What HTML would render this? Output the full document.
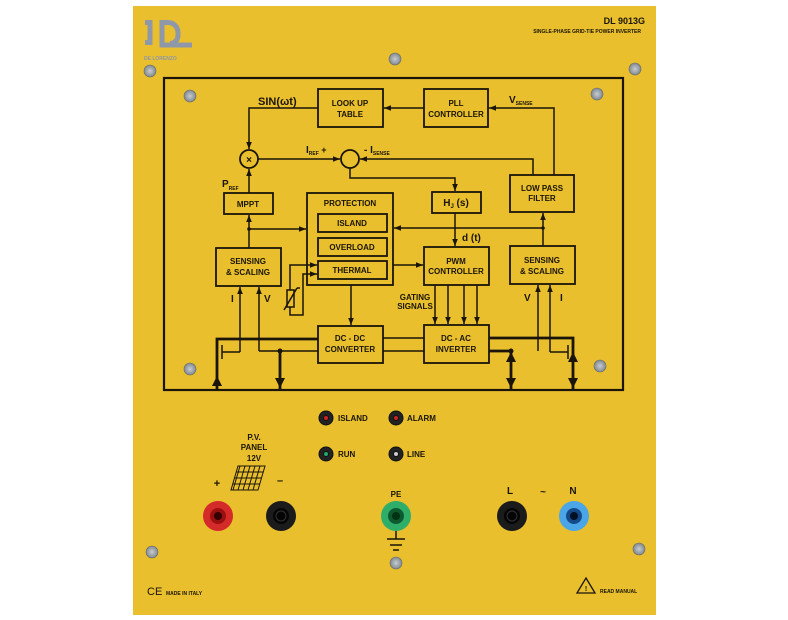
<!DOCTYPE html>
<html><head><meta charset="utf-8"><style>
html,body{margin:0;padding:0;background:#fff;width:788px;height:620px;overflow:hidden}
svg{display:block}
text{font-family:"Liberation Sans",sans-serif;fill:#1a1508;font-weight:bold}
</style></head><body>
<svg width="788" height="620" viewBox="0 0 788 620" xmlns="http://www.w3.org/2000/svg">
<defs>
<marker id="a" viewBox="0 0 10 10" refX="10" refY="5" markerWidth="7" markerHeight="7" orient="auto-start-reverse" markerUnits="userSpaceOnUse"><path d="M0,1 L10,5 L0,9 z" fill="#1a1508"/></marker>
<radialGradient id="sc"><stop offset="0" stop-color="#c8ccd0"/><stop offset="1" stop-color="#7f8890"/></radialGradient>
</defs>
<rect x="133" y="6" width="523" height="609" fill="#e9bf2e"/>
<!-- logo -->
<g fill="none" stroke="#8f98a8" stroke-width="5">
<path d="M150,20 V45"/>
<path d="M145,22.5 H152 M145,42.5 H152"/>
<path d="M162,20 V45 H192"/>
<path d="M162,22.5 H168 a10,10 0 0 1 10,10 v3 a8,8 0 0 1 -8,8"/>
</g>
<text x="144" y="60" font-size="5" style="fill:#8f98a8">DE LORENZO</text>
<text x="645" y="24" font-size="9" text-anchor="end">DL 9013G</text>
<text x="641" y="33" font-size="5" text-anchor="end">SINGLE-PHASE GRID-TIE POWER INVERTER</text>
<!-- screws -->
<g fill="url(#sc)" stroke="#6a6a60" stroke-width="0.6">
<circle cx="150" cy="71" r="6"/><circle cx="395" cy="59" r="6"/><circle cx="635" cy="69" r="6"/>
<circle cx="190" cy="96" r="6"/><circle cx="597" cy="94" r="6"/><circle cx="190" cy="369" r="6"/><circle cx="600" cy="366" r="6"/>
<circle cx="152" cy="552" r="6"/><circle cx="396" cy="563" r="6"/><circle cx="639" cy="549" r="6"/>
</g>
<!-- diagram -->
<g fill="none" stroke="#1a1508" stroke-width="1.8">
<rect x="164" y="78" width="459" height="312" stroke-width="2.2"/>
<rect x="318" y="89" width="65" height="38"/>
<rect x="424" y="89" width="64" height="38"/>
<rect x="510" y="175" width="64" height="37"/>
<rect x="432" y="192" width="49" height="21"/>
<rect x="224" y="193" width="49" height="21"/>
<rect x="307" y="193" width="86" height="92"/>
<rect x="318" y="214" width="69" height="18"/>
<rect x="318" y="238" width="69" height="18"/>
<rect x="318" y="261" width="69" height="18"/>
<rect x="216" y="248" width="65" height="38"/>
<rect x="424" y="247" width="65" height="38"/>
<rect x="510" y="246" width="65" height="38"/>
<rect x="318" y="326" width="65" height="37"/>
<rect x="424" y="325" width="65" height="38"/>
<circle cx="249" cy="159" r="9"/>
<circle cx="350" cy="159" r="9"/>
</g>
<text x="249" y="163" font-size="10" text-anchor="middle">×</text>
<g fill="none" stroke="#1a1508" stroke-width="1.5" marker-end="url(#a)">
<path d="M318,108 H249 V149"/>
<path d="M424,108 H384"/>
<path d="M554,175 V108 H489"/>
<path d="M258,159 H340"/>
<path d="M533,175 V159 H360"/>
<path d="M350,168 V178 H455 V191"/>
<path d="M455,213 V246"/>
<path d="M249,193 V169"/>
<path d="M249,248 V215"/>
<path d="M249,229 H306"/>
<path d="M543,228 H394"/>
<path d="M543,246 V213"/>
<path d="M393,265 H423"/>
<path d="M351,285 V325"/>
<path d="M435,285 V324"/><path d="M448,285 V324"/><path d="M464,285 V324"/><path d="M477,285 V324"/>
<path d="M290,290 V265 H317"/>
<path d="M290,307 V315 H303 V274 H317"/>
<path d="M240,352 V287"/>
<path d="M259,351 V287"/>
<path d="M538,351 V285"/>
<path d="M550,352 V285"/>
</g>
<g fill="none" stroke="#1a1508" stroke-width="1.5">
<rect x="287" y="290" width="7" height="17"/>
<path d="M284,310 L297,288 M297,288 h3"/>
<path d="M222,352 H240 M222,345 V359"/>
<path d="M550,352 H568 M568,345 V359"/>
<path d="M383,338 H424 M383,351 H424"/>
<path d="M259,351 H318"/>
</g>
<g fill="none" stroke="#1a1508" stroke-width="2.8">
<path d="M217,390 V339 H318"/>
<path d="M280,351 V390"/>
<path d="M489,338 H573 V390"/>
<path d="M489,351 H511 V390"/>
</g>
<g fill="#1a1508">
<path d="M217,376 l-5,10 h10z"/>
<path d="M280,388 l-5,-10 h10z"/>
<path d="M511,352 l-5,10 h10z M511,388 l-5,-10 h10z"/>
<path d="M573,352 l-5,10 h10z M573,388 l-5,-10 h10z"/>
<circle cx="280" cy="351" r="2.5"/><circle cx="511" cy="351" r="2.5"/>
<circle cx="249" cy="229" r="1.8"/><circle cx="543" cy="228" r="1.8"/>
</g>
<g font-size="8" text-anchor="middle">
<text x="350" y="106">LOOK UP</text><text x="350" y="117">TABLE</text>
<text x="456" y="106">PLL</text><text x="456" y="117">CONTROLLER</text>
<text x="542" y="191">LOW PASS</text><text x="542" y="201">FILTER</text>
<text x="248" y="207">MPPT</text>
<text x="350" y="206">PROTECTION</text>
<text x="352" y="226">ISLAND</text><text x="352" y="250">OVERLOAD</text><text x="352" y="273">THERMAL</text>
<text x="248" y="264">SENSING</text><text x="248" y="275">&amp; SCALING</text>
<text x="456" y="264">PWM</text><text x="456" y="274">CONTROLLER</text>
<text x="542" y="263">SENSING</text><text x="542" y="274">&amp; SCALING</text>
<text x="350" y="341">DC - DC</text><text x="350" y="352">CONVERTER</text>
<text x="456" y="341">DC - AC</text><text x="456" y="352">INVERTER</text>
<text x="415" y="300">GATING</text><text x="415" y="309">SIGNALS</text>
</g>
<text x="456" y="206" font-size="10" text-anchor="middle">H<tspan font-size="6" dy="2">J</tspan><tspan dy="-2"> (s)</tspan></text>
<text x="258" y="105" font-size="11">SIN(ωt)</text>
<text x="509" y="103" font-size="10">V<tspan font-size="5" dy="2">SENSE</tspan></text>
<text x="306" y="153" font-size="10">I<tspan font-size="5" dy="2">REF</tspan><tspan dy="-2" font-size="9"> +</tspan></text>
<text x="364" y="153" font-size="10">- I<tspan font-size="5" dy="2">SENSE</tspan></text>
<text x="222" y="187" font-size="10">P<tspan font-size="5" dy="3">REF</tspan></text>
<text x="462" y="241" font-size="10">d (t)</text>
<text x="231" y="302" font-size="10">I</text><text x="264" y="302" font-size="10">V</text>
<text x="524" y="301" font-size="10">V</text><text x="560" y="301" font-size="10">I</text>
<!-- LEDs -->
<g stroke="#111" stroke-width="1">
<circle cx="326" cy="418" r="7" fill="#222"/><circle cx="326" cy="418" r="2.5" fill="#c22"/>
<circle cx="396" cy="418" r="7" fill="#222"/><circle cx="396" cy="418" r="2.5" fill="#c22"/>
<circle cx="326" cy="454" r="7" fill="#222"/><circle cx="326" cy="454" r="2.5" fill="#2a6" />
<circle cx="396" cy="454" r="7" fill="#222"/><circle cx="396" cy="454" r="2.5" fill="#ccc"/>
</g>
<g font-size="8"><text x="338" y="421">ISLAND</text><text x="407" y="421">ALARM</text><text x="338" y="457">RUN</text><text x="407" y="457">LINE</text></g>
<g font-size="8" text-anchor="middle"><text x="254" y="440">P.V.</text><text x="254" y="450">PANEL</text><text x="254" y="461">12V</text></g>
<g stroke="#1a1508" stroke-width="1" fill="none">
<path d="M238,466 H265 L258,490 H231 Z"/>
<path d="M234,478 H262 M236,472 H263 M233,484 H260 M240,466 L233,490 M245,466 L238,490 M250,466 L243,490 M255,466 L248,490 M260,466 L253,490"/>
</g>
<text x="217" y="487" font-size="11" text-anchor="middle">+</text>
<text x="280" y="484" font-size="11" text-anchor="middle">–</text>
<text x="396" y="497" font-size="8" text-anchor="middle">PE</text>
<text x="510" y="494" font-size="10" text-anchor="middle">L</text>
<text x="543" y="495" font-size="10" text-anchor="middle">~</text>
<text x="573" y="494" font-size="10" text-anchor="middle">N</text>
<!-- terminals -->
<g>
<circle cx="218" cy="516" r="15" fill="#d42a2a"/><circle cx="218" cy="516" r="8" fill="#9a1010"/><circle cx="218" cy="516" r="4" fill="#300"/>
<circle cx="281" cy="516" r="15" fill="#1b1b1b"/><circle cx="281" cy="516" r="8" fill="#050505"/><circle cx="281" cy="516" r="5" fill="none" stroke="#333"/>
<circle cx="396" cy="516" r="15" fill="#2fae6a"/><circle cx="396" cy="516" r="8" fill="#0d5a30"/><circle cx="396" cy="516" r="4" fill="#031"/>
<circle cx="512" cy="516" r="15" fill="#1b1b1b"/><circle cx="512" cy="516" r="8" fill="#050505"/><circle cx="512" cy="516" r="5" fill="none" stroke="#333"/>
<circle cx="574" cy="516" r="15" fill="#4aa6e6"/><circle cx="574" cy="516" r="8" fill="#154a8a"/><circle cx="574" cy="516" r="4" fill="#012"/>
</g>
<g stroke="#1a1508" stroke-width="1.5"><path d="M396,531 V539 M387,539 H405 M390,545 H402 M393,550 H399"/></g>
<text x="147" y="595" font-size="11" style="font-weight:normal">CE</text>
<text x="166" y="595" font-size="5">MADE IN ITALY</text>
<path d="M586,578 L595,593 H577 Z" fill="none" stroke="#1a1508" stroke-width="1.3"/>
<text x="586" y="591" font-size="7" text-anchor="middle">!</text>
<text x="600" y="593" font-size="5">READ MANUAL</text>
</svg>
</body></html>
